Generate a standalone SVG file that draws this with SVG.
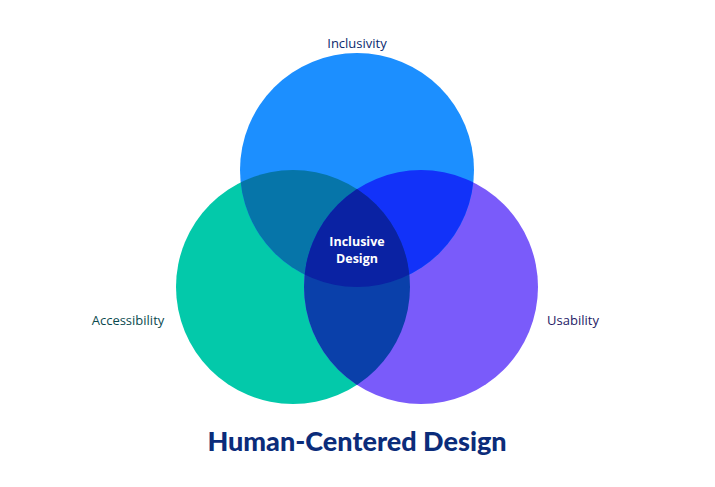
<svg xmlns="http://www.w3.org/2000/svg" width="715" height="487" viewBox="0 0 715 487">
<style>
.lbl{font-family:"Open Sans","Liberation Sans",sans-serif;font-size:13px;text-anchor:middle}
.c{font-family:"Open Sans","Liberation Sans",sans-serif;font-size:12.5px;font-weight:bold;fill:#fff;text-anchor:middle}
</style>
<defs>
<clipPath id="cT"><circle cx="357" cy="170" r="117"/></clipPath>
<clipPath id="cL"><circle cx="293" cy="287" r="117"/></clipPath>
<clipPath id="cR"><circle cx="421" cy="287" r="117"/></clipPath>
</defs>
<rect width="715" height="487" fill="#fff"/>
<g id="circle-accessibility"><circle cx="293" cy="287" r="117" fill="#03C9AA"/></g>
<g id="circle-usability"><circle cx="421" cy="287" r="117" fill="#7A5BFA"/></g>
<g id="circle-inclusivity"><circle cx="357" cy="170" r="117" fill="#1C8FFF"/></g>
<g id="overlaps">
<circle cx="293" cy="287" r="117" fill="#0675A9" clip-path="url(#cT)"/>
<circle cx="421" cy="287" r="117" fill="#1232F9" clip-path="url(#cT)"/>
<circle cx="293" cy="287" r="117" fill="#0A40AA" clip-path="url(#cR)"/>
<g clip-path="url(#cT)"><circle cx="293" cy="287" r="117" fill="#0A22A3" clip-path="url(#cR)"/></g>
</g>
<g id="center-label"><text class="c" x="357" y="246">Inclusive</text><text class="c" x="357" y="263">Design</text></g>
<g id="labels">
<text class="lbl" x="357" y="48" fill="#0B2A6E">Inclusivity</text>
<text class="lbl" x="128" y="325" fill="#0B4A4F">Accessibility</text>
<text class="lbl" x="573" y="325" fill="#251A66">Usability</text>
<text x="357" y="451" font-family="Lato,'Liberation Sans',sans-serif" font-size="27" font-weight="900" fill="#0B2C7A" text-anchor="middle">Human-Centered Design</text>
</g>
</svg>
